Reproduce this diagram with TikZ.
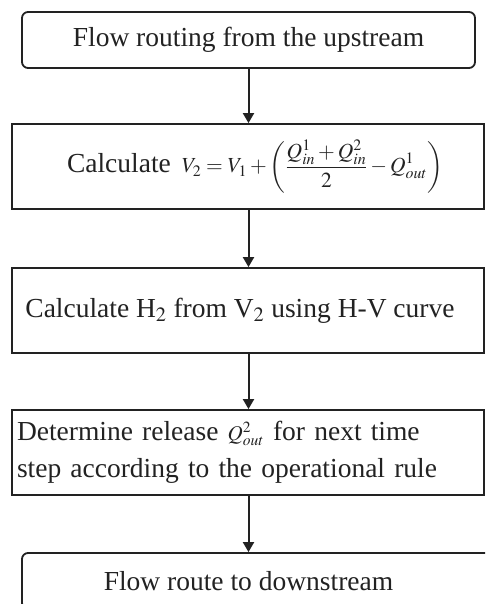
\documentclass[tikz,border=0pt]{standalone}
\usepackage{mathptmx}
\usepackage[no-math]{fontspec}
\setmainfont{Liberation Serif}
\usetikzlibrary{arrows.meta}
\definecolor{ink}{HTML}{222222}
\begin{document}
\begin{tikzpicture}[x=1pt,y=-1pt,
  boxbase/.style={draw=ink, line width=1.8pt, text=ink, inner sep=0pt,
    font=\fontsize{27.5}{37.5}\selectfont},
  rbox/.style={boxbase, rounded corners=6pt},
  sbox/.style={boxbase, minimum width=472pt, minimum height=85pt},
  arr/.style={draw=ink, line width=2pt, -{Triangle[width=11pt,length=10pt]}}]
\clip (0,0) rectangle (485,604);
\useasboundingbox (0,0) rectangle (485,604);
\node[rbox, minimum width=453pt, minimum height=56pt] (b1) at (248.5,40) {Flow routing from the upstream};
\node[sbox] (b2) at (248,166.5) {Calculate\hspace{0.4em}{\fontsize{21.5}{26}\selectfont$\displaystyle V_2=V_1+\left(\frac{Q_{in}^1+Q_{in}^2}{2}-Q_{out}^1\right)$}\hspace*{-14pt}};
\node[sbox] (b3) at (248,310.5) {Calculate H$_2$ from V$_2$ using H-V curve\hspace*{16pt}};
\node[sbox, text width=462pt, align=left] (b4) at (248,452.5) {\raggedright Determine release {\fontsize{21}{24}\selectfont$Q_{out}^2$} for next time\\step according to the operational rule};
\node[rbox, minimum width=473pt, minimum height=56pt] (b5) at (258.5,581) {Flow route to downstream\hspace*{20pt}};
\draw[arr] (b1.south) -- (b1.south |- b2.north);
\draw[arr] (b1.south |- b2.south) -- (b1.south |- b3.north);
\draw[arr] (b1.south |- b3.south) -- (b1.south |- b4.north);
\draw[arr] (b1.south |- b4.south) -- (b1.south |- b5.north);
\end{tikzpicture}
\end{document}
